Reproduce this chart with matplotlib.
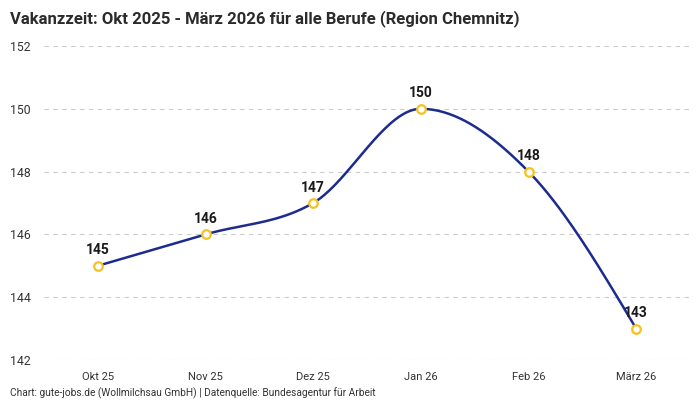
import matplotlib
matplotlib.use("Agg")
import matplotlib.pyplot as plt
import numpy as np

plt.rcParams['font.family'] = ['Roboto', 'DejaVu Sans']

# Daten
monate = ['Okt 25', 'Nov 25', 'Dez 25', 'Jan 26', 'Feb 26', 'März 26']
tage = [145, 146, 147, 150, 148, 143]
y_ticks = [142, 144, 146, 148, 150, 152]


def monotone_kurve(x, y, n=40):
    # monotone kubische Interpolation (wie d3 curveMonotoneX)
    x = np.asarray(x, float)
    y = np.asarray(y, float)
    h = np.diff(x)
    s = np.diff(y) / h
    m = np.zeros(len(x))
    for i in range(1, len(x) - 1):
        if s[i - 1] * s[i] <= 0:
            m[i] = 0
        else:
            p = (s[i - 1] * h[i] + s[i] * h[i - 1]) / (h[i - 1] + h[i])
            m[i] = (np.sign(s[i - 1]) + np.sign(s[i])) * min(abs(s[i - 1]), abs(s[i]), 0.5 * abs(p))
    m[0] = (3 * s[0] - m[1]) / 2 if len(x) > 2 else s[0]
    m[-1] = (3 * s[-1] - m[-2]) / 2
    xs, ys = [], []
    for i in range(len(x) - 1):
        t = np.linspace(0, 1, n)
        h00 = 2 * t**3 - 3 * t**2 + 1
        h10 = t**3 - 2 * t**2 + t
        h01 = -2 * t**3 + 3 * t**2
        h11 = t**3 - t**2
        xs.append(x[i] + t * h[i])
        ys.append(h00 * y[i] + h10 * h[i] * m[i] + h01 * y[i + 1] + h11 * h[i] * m[i + 1])
    return np.concatenate(xs), np.concatenate(ys)


fig = plt.figure(figsize=(7, 4), dpi=100)
ax = fig.add_axes([44 / 700, 0.1, 646 / 700, 0.785])

pos = np.arange(len(monate))
kx, ky = monotone_kurve(pos, tage)
ax.plot(kx, ky, color='#1c2b8f', linewidth=1.8, zorder=2)
ax.scatter(pos, tage, s=38, facecolor='white', edgecolor='#f7c21b', linewidth=1.6, zorder=3)

for xi, yi in zip(pos, tage):
    ax.annotate(str(yi), (xi, yi), xytext=(0, 6), textcoords='offset points',
                ha='center', va='bottom', fontsize=10, fontweight='bold', color='#1a1a1a')

ax.set_xlim(-0.5, len(monate) - 0.5)
ax.set_ylim(142, 152)
ax.set_yticks(y_ticks)
ax.set_xticks(pos)
ax.set_xticklabels(monate)
ax.tick_params(axis='both', length=0, labelsize=8, labelcolor='#333333')
ax.tick_params(axis='x', pad=9)
ax.tick_params(axis='y', pad=24.5, labelsize=8.8)
for lab in ax.get_yticklabels():
    lab.set_horizontalalignment('left')

ax.grid(axis='y', linestyle=(0, (4, 4)), color='#cccccc', linewidth=0.8)
ax.set_axisbelow(True)
for sp in ax.spines.values():
    sp.set_visible(False)

fig.text(10 / 700, 1 - 10 / 400, 'Vakanzzeit: Okt 2025 - März 2026 für alle Berufe (Region Chemnitz)',
         fontsize=12, fontweight='bold', color='#2b2b2b', ha='left', va='top')
fig.text(10 / 700, 1 - 393 / 400, 'Chart: gute-jobs.de (Wollmilchsau GmbH) | Datenquelle: Bundesagentur für Arbeit',
         fontsize=7.3, color='#333333', ha='left', va='center')

fig.savefig('out.png', dpi=100)
